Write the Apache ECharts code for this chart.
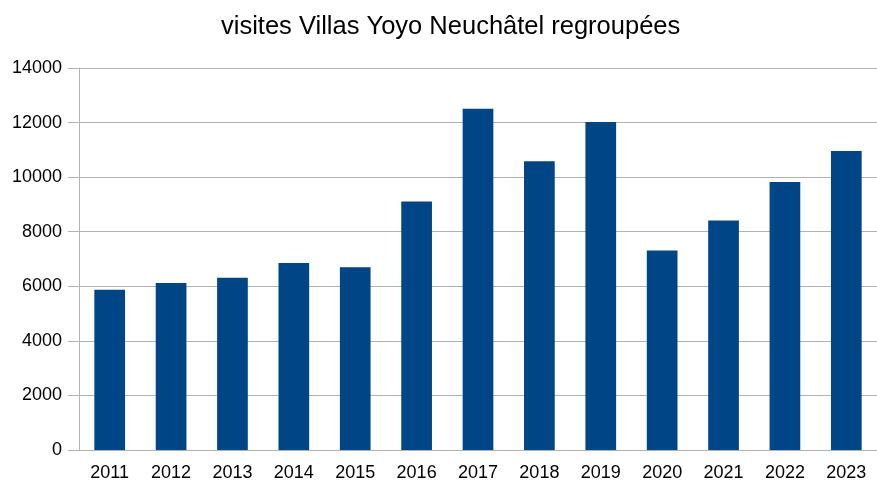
<!DOCTYPE html>
<html>
<head>
<meta charset="utf-8">
<script src="https://cdn.jsdelivr.net/npm/echarts@6/dist/echarts.min.js"></script>
<style>
  html, body { margin: 0; padding: 0; background: #fff; }
  #chart { width: 877px; height: 486px; }
</style>
</head>
<body>
<div id="chart"></div>
<script>
// years on the x axis
const years = ['2011', '2012', '2013', '2014', '2015', '2016', '2017', '2018', '2019', '2020', '2021', '2022', '2023'];
// grouped visits per year
const visits = [5870, 6120, 6310, 6850, 6700, 9110, 12510, 10580, 12020, 7310, 8410, 9820, 10960];
// y axis range
const yMin = 0;
const yMax = 14000;
const yStep = 2000;

const chart = echarts.init(document.getElementById('chart'));

const option = {
  animation: false,
  title: {
    text: 'visites Villas Yoyo Neuchâtel regroupées',
    left: 216,
    top: 9,
    textStyle: {
      fontFamily: 'Liberation Sans',
      fontWeight: 'normal',
      fontSize: 25.5,
      color: '#000'
    }
  },
  grid: {
    left: 79,
    right: -8,
    top: 68,
    bottom: 36
  },
  xAxis: {
    type: 'category',
    data: years,
    axisLine: { lineStyle: { color: '#b3b3b3' } },
    axisTick: { length: 9, lineStyle: { color: '#b3b3b3' } },
    axisLabel: {
      fontFamily: 'Liberation Sans',
      fontSize: 18,
      color: '#000',
      margin: 14
    }
  },
  yAxis: {
    type: 'value',
    min: yMin,
    max: yMax,
    interval: yStep,
    axisLine: { show: true, lineStyle: { color: '#b3b3b3' } },
    axisTick: { show: true, length: 11, lineStyle: { color: '#b3b3b3' } },
    splitLine: { lineStyle: { color: '#b3b3b3' } },
    axisLabel: {
      fontFamily: 'Liberation Sans',
      fontSize: 18,
      color: '#000',
      margin: 17,
      formatter: (v) => String(v)
    }
  },
  series: [
    {
      name: 'visites',
      type: 'bar',
      data: visits,
      barWidth: '50%',
      itemStyle: { color: '#004586' }
    }
  ]
};

chart.setOption(option);
</script>
</body>
</html>
